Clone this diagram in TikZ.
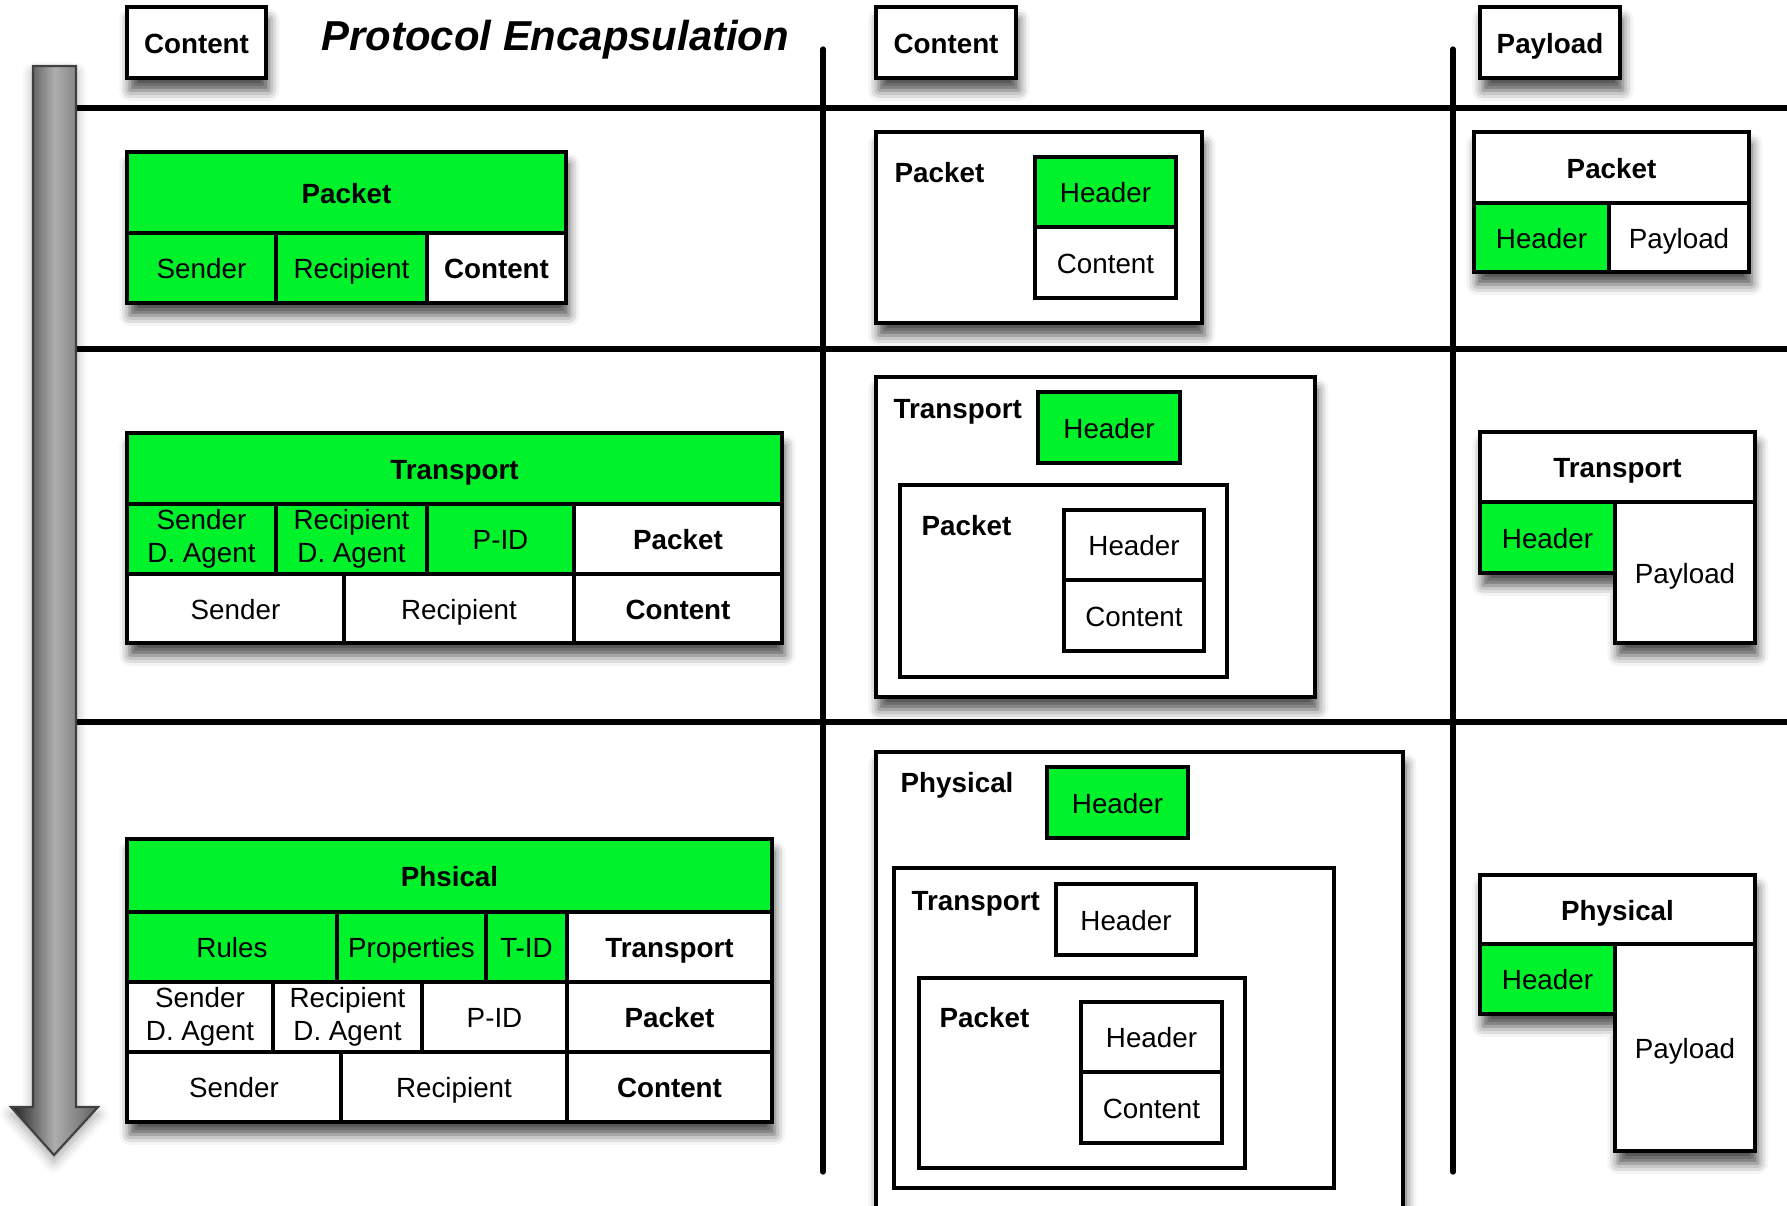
\documentclass[tikz,border=0pt]{standalone}
\usepackage{fontspec}
\setmainfont{Liberation Sans}
\usetikzlibrary{shadows.blur}
\definecolor{pgreen}{RGB}{0,242,42}

\begin{document}
\begin{tikzpicture}[x=0.01cm,y=-0.01cm,
		cellbox/.style={draw=black,line width=0.9pt,fill=white},
		hdr/.style={cellbox,fill=pgreen},
		boxshadow/.style={blur shadow={shadow xshift=0.8pt,shadow yshift=-3.5pt,shadow opacity=70,shadow blur radius=3pt}},
		divider/.style={line width=1.5pt,line cap=round},
		twoline/.style={text height=,text depth=},
		every node/.style={font=\fontsize{7.9}{9.4}\selectfont,align=center,inner sep=0pt,text height=1.6ex,text depth=0.45ex}]
		\useasboundingbox (0,0) rectangle (1787,1206);
		
		% Dividers
		\draw[divider] (40,108) -- (1800,108);
		\draw[divider] (40,349) -- (1800,349);
		\draw[divider] (40,722) -- (1800,722);
		\draw[divider] (823,49) -- (823,1172);
		\draw[divider] (1453,49) -- (1453,1172);
		
		% Down arrow
		\draw[draw=black!75,line width=0.6pt,blur shadow={shadow xshift=0pt,shadow yshift=-2pt,shadow opacity=35,shadow blur radius=3pt},
		left color=black!88,right color=black!62,middle color=black!32]
		(33,66) -- (76,66) -- (76,1107) -- (98,1107) -- (54,1155) -- (11,1107) -- (33,1107) -- cycle;
		
		% Title and column heads
		\node[anchor=west,font=\fontsize{11.9}{14}\selectfont\bfseries\itshape] (title) at (321,40) {Protocol Encapsulation};
		\draw[cellbox,boxshadow] (127,7) rectangle node (headl) {\bfseries Content} (266,78);
		\draw[cellbox,boxshadow] (876,7) rectangle node (headm) {\bfseries Content} (1016,78);
		\draw[cellbox,boxshadow] (1480,7) rectangle node (headr) {\bfseries Payload} (1620,78);
		
		% Packet layer
		\path[boxshadow] (127,152) rectangle (566,303);
		\draw[hdr] (127,152) rectangle node (lpkt) {\bfseries Packet} (566,233);
		\draw[hdr] (127,233) rectangle node (lpktsnd) {Sender} (276,303);
		\draw[hdr] (276,233) rectangle node (lpktrcp) {Recipient} (427,303);
		\draw[cellbox] (427,233) rectangle node (lpktcnt) {\bfseries Content} (566,303);
		
		\draw[cellbox,boxshadow] (876,132) rectangle (1202,323);
		\node[anchor=west] (mpkt) at (894,172) {\bfseries Packet};
		\draw[hdr] (1035,157) rectangle node (mpkthdr) {Header} (1176,227);
		\draw[cellbox] (1035,227) rectangle node (mpktcnt) {Content} (1176,298);
		
		\path[boxshadow] (1474,132) rectangle (1749,272);
		\draw[cellbox] (1474,132) rectangle node (rpkt) {\bfseries Packet} (1749,203);
		\draw[hdr] (1474,203) rectangle node (rpkthdr) {Header} (1609,272);
		\draw[cellbox] (1609,203) rectangle node (rpktpl) {Payload} (1749,272);
		
		% Transport layer
		\path[boxshadow] (127,433) rectangle (782,643);
		\draw[hdr] (127,433) rectangle node (ltrn) {\bfseries Transport} (782,504);
		\draw[hdr] (127,504) rectangle node[twoline] (ltrnsda) {Sender\\D. Agent} (276,574);
		\draw[hdr] (276,504) rectangle node[twoline] (ltrnrda) {Recipient\\D. Agent} (427,574);
		\draw[hdr] (427,504) rectangle node (ltrnpid) {P-ID} (574,574);
		\draw[cellbox] (574,504) rectangle node (ltrnpkt) {\bfseries Packet} (782,574);
		\draw[cellbox] (127,574) rectangle node (ltrnsnd) {Sender} (344,643);
		\draw[cellbox] (344,574) rectangle node (ltrnrcp) {Recipient} (574,643);
		\draw[cellbox] (574,574) rectangle node (ltrncnt) {\bfseries Content} (782,643);
		
		\draw[cellbox,boxshadow] (876,377) rectangle (1315,697);
		\node[anchor=west] (mtrn) at (893,408) {\bfseries Transport};
		\draw[hdr] (1038,392) rectangle node (mtrnhdr) {Header} (1180,463);
		\draw[cellbox] (900,485) rectangle (1227,677);
		\node[anchor=west] (mtrnpkt) at (921,525) {\bfseries Packet};
		\draw[cellbox] (1064,510) rectangle node (mtrnpkthdr) {Header} (1204,580);
		\draw[cellbox] (1064,580) rectangle node (mtrnpktcnt) {Content} (1204,651);
		
		\path[boxshadow] (1480,432) -- (1755,432) -- (1755,643) -- (1615,643) -- (1615,573) -- (1480,573) -- cycle;
		\draw[cellbox] (1480,432) rectangle node (rtrn) {\bfseries Transport} (1755,502);
		\draw[hdr] (1480,502) rectangle node (rtrnhdr) {Header} (1615,573);
		\draw[cellbox] (1615,502) rectangle node (rtrnpl) {Payload} (1755,643);
		
		% Physical layer
		\path[boxshadow] (127,839) rectangle (772,1122);
		\draw[hdr] (127,839) rectangle node (lphy) {\bfseries Phsical} (772,912);
		\draw[hdr] (127,912) rectangle node (lphyrul) {Rules} (337,982);
		\draw[hdr] (337,912) rectangle node (lphyprp) {Properties} (486,982);
		\draw[hdr] (486,912) rectangle node (lphytid) {T-ID} (567,982);
		\draw[cellbox] (567,912) rectangle node (lphytrn) {\bfseries Transport} (772,982);
		\draw[cellbox] (127,982) rectangle node[twoline] (lphysda) {Sender\\D. Agent} (273,1052);
		\draw[cellbox] (273,982) rectangle node[twoline] (lphyrda) {Recipient\\D. Agent} (422,1052);
		\draw[cellbox] (422,982) rectangle node (lphypid) {P-ID} (567,1052);
		\draw[cellbox] (567,982) rectangle node (lphypkt) {\bfseries Packet} (772,1052);
		\draw[cellbox] (127,1052) rectangle node (lphysnd) {Sender} (341,1122);
		\draw[cellbox] (341,1052) rectangle node (lphyrcp) {Recipient} (567,1122);
		\draw[cellbox] (567,1052) rectangle node (lphycnt) {\bfseries Content} (772,1122);
		
		\draw[cellbox,boxshadow] (876,752) rectangle (1403,1250);
		\node[anchor=west] (mphy) at (900,782) {\bfseries Physical};
		\draw[hdr] (1047,767) rectangle node (mphyhdr) {Header} (1188,838);
		\draw[cellbox] (894,868) rectangle (1334,1188);
		\node[anchor=west] (mphytrn) at (911,900) {\bfseries Transport};
		\draw[cellbox] (1056,884) rectangle node (mphytrnhdr) {Header} (1196,955);
		\draw[cellbox] (919,978) rectangle (1245,1168);
		\node[anchor=west] (mphypkt) at (939,1017) {\bfseries Packet};
		\draw[cellbox] (1081,1002) rectangle node (mphypkthdr) {Header} (1222,1072);
		\draw[cellbox] (1081,1072) rectangle node (mphypktcnt) {Content} (1222,1143);
		
		\path[boxshadow] (1480,875) -- (1755,875) -- (1755,1151) -- (1615,1151) -- (1615,1014) -- (1480,1014) -- cycle;
		\draw[cellbox] (1480,875) rectangle node (rphy) {\bfseries Physical} (1755,944);
		\draw[hdr] (1480,944) rectangle node (rphyhdr) {Header} (1615,1014);
		\draw[cellbox] (1615,944) rectangle node (rphypl) {Payload} (1755,1151);
		
\end{tikzpicture}
\end{document}
